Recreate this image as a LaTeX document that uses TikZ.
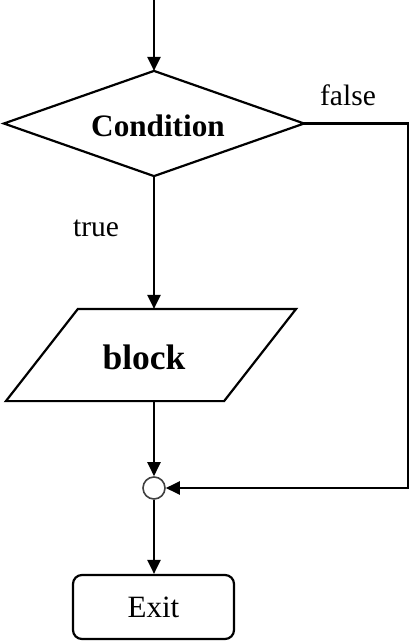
\documentclass[tikz,border=0pt]{standalone}
\usepackage{fontspec}
\setmainfont{Liberation Serif}
\usetikzlibrary{calc,arrows.meta}
\begin{document}
\begin{tikzpicture}[x=1pt,y=-1pt,
  line width=2.2pt,
  arr/.style={-{Triangle[length=14pt,width=13pt]}},
  lbl/.style={font=\fontsize{29.5}{34}\selectfont, inner sep=0pt},
  frame/.style={rectangle, inner sep=0pt},
  condtxt/.style={inner sep=0pt, font=\fontsize{31.2}{36}\selectfont\bfseries},
  blocktxt/.style={inner sep=0pt, font=\fontsize{35.5}{40}\selectfont\bfseries},
  joinpt/.style={circle, draw=black!75, line width=1.6pt, fill=white, minimum size=22pt, inner sep=0pt},
  exitbox/.style={rectangle, draw, rounded corners=9pt, minimum width=161pt, minimum height=64pt,
    font=\fontsize{31}{36}\selectfont}]
\useasboundingbox (0,0) rectangle (410,641);
\coordinate (start) at (154,0);
% condition diamond
\node[frame, minimum width=298pt, minimum height=103pt] (cond) at (154,123.5) {};
\draw (cond.north) -- (cond.east) -- (cond.south) -- (cond.west) -- cycle;
\node[condtxt] (condlabel) at (158,126) {Condition};
% block parallelogram
\node[frame, minimum width=288pt, minimum height=90pt] (block) at (151,355) {};
\draw ($(block.north west)+(72,0)$) -- (block.north east) -- ($(block.south east)+(-72,0)$) -- (block.south west) -- cycle;
\node[blocktxt] (blocklabel) at (144,357) {block};
% join and exit
\node[joinpt] (join) at (154,488) {};
\node[exitbox] (exit) at (153.5,607) {Exit};
\coordinate (corner) at (408,123.5);
\node[lbl] (false) at (348,95) {false};
\node[lbl] (true) at (96,228) {true};
\draw[arr] (start) -- (cond.north);
\draw[arr] (cond.south) -- (cond.south |- block.north);
\draw[arr] (block.south -| join) -- (join.north);
\draw[arr] (join.south) -- (exit.north -| join);
\draw[arr] (cond.east) -- (corner) |- (join.east);
\end{tikzpicture}
\end{document}
